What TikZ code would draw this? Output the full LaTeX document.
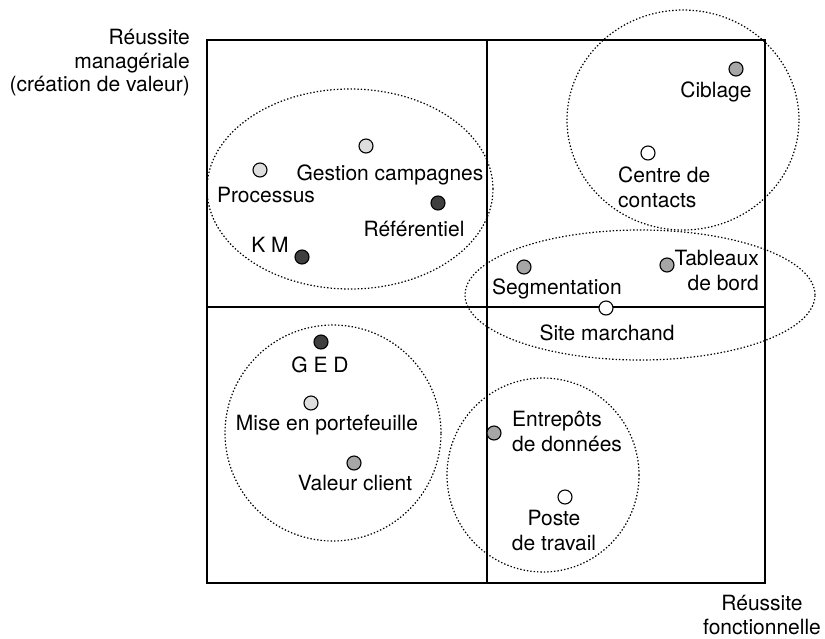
\documentclass[tikz,border=0pt]{standalone}
\usepackage{fontspec}
\setmainfont{TeX Gyre Heros}
\usepackage{tikz}
\usetikzlibrary{shapes}

\definecolor{dotdark}{HTML}{3F3F3F}
\definecolor{dotmid}{HTML}{A6A6A6}
\definecolor{dotlight}{HTML}{DEDEDE}

\begin{document}
\begin{tikzpicture}[x=1pt,y=-1pt,
        dot/.style={circle,draw=black,line width=1.1pt,minimum size=14pt,inner sep=0pt},
        lbl/.style={inner sep=0pt,font=\fontsize{21}{25}\selectfont},
        axislbl/.style={inner sep=0pt,font=\fontsize{21}{23.5}\selectfont},
        zone/.style={line width=1.2pt,dash pattern=on 1.4pt off 2pt},
        frame/.style={line width=1.4pt}]
        \path[fill=white,use as bounding box] (0,0) rectangle (825,638);
        % groupes
        \draw[zone] (350,189) ellipse [x radius=143pt, y radius=100pt];
        \draw[zone] (683,120) ellipse [x radius=116pt, y radius=110pt];
        \draw[zone] (640,295) ellipse [x radius=175pt, y radius=65pt];
        \draw[zone] (333,433) ellipse [x radius=108pt, y radius=108pt];
        \draw[zone] (543,475) ellipse [x radius=96pt, y radius=97pt];
        % cadre
        \draw[frame] (207,40) rectangle (765,583);
        \draw[frame] (487,40) -- (487,583);
        \draw[frame] (207,307) -- (765,307);
        % points
        \node[dot,fill=dotlight] (gestion) at (366,146) {};
        \node[dot,fill=dotlight] (processus) at (260,170) {};
        \node[dot,fill=dotdark] (referentiel) at (438,203) {};
        \node[dot,fill=dotdark] (km) at (302,257) {};
        \node[dot,fill=dotmid] (ciblage) at (736,69) {};
        \node[dot,fill=white] (centre) at (648,153) {};
        \node[dot,fill=dotmid] (segmentation) at (524,267) {};
        \node[dot,fill=dotmid] (tableaux) at (667,265) {};
        \node[dot,fill=white] (site) at (606,308) {};
        \node[dot,fill=dotdark] (ged) at (321,342) {};
        \node[dot,fill=dotlight] (mise) at (311,403) {};
        \node[dot,fill=dotmid] (valeur) at (354,463) {};
        \node[dot,fill=dotmid] (entrepots) at (494,433) {};
        \node[dot,fill=white] (poste) at (565,497) {};
        % libelles
        \node[lbl] (gestion-l) at (390,175) {Gestion campagnes};
        \node[lbl] (processus-l) at (266,195) {Processus};
        \node[lbl] (referentiel-l) at (414,229) {Référentiel};
        \node[lbl] (km-l) at (270,245) {K M};
        \node[lbl] (ciblage-l) at (716,92) {Ciblage};
        \node[lbl,align=left,anchor=west] (centre-l) at (618,187) {Centre de\\contacts};
        \node[lbl] (segmentation-l) at (557,289) {Segmentation};
        \node[lbl,align=right,anchor=east] (tableaux-l) at (759,270) {Tableaux\\de bord};
        \node[lbl] (site-l) at (607,333) {Site marchand};
        \node[lbl] (ged-l) at (320,365) {G E D};
        \node[lbl] (mise-l) at (327,425) {Mise en portefeuille};
        \node[lbl] (valeur-l) at (355,483) {Valeur client};
        \node[lbl,align=left,anchor=west] (entrepots-l) at (512,431) {Entrepôts\\de données};
        \node[lbl,align=center] (poste-l) at (554,530) {Poste\\de travail};
        % axes
        \node[axislbl,align=right,anchor=east] (axe-y) at (190,63) {Réussite\\managériale\\(création de valeur)};
        \node[axislbl,align=center] (axe-x) at (762,615) {Réussite\\fonctionnelle};
\end{tikzpicture}
\end{document}
